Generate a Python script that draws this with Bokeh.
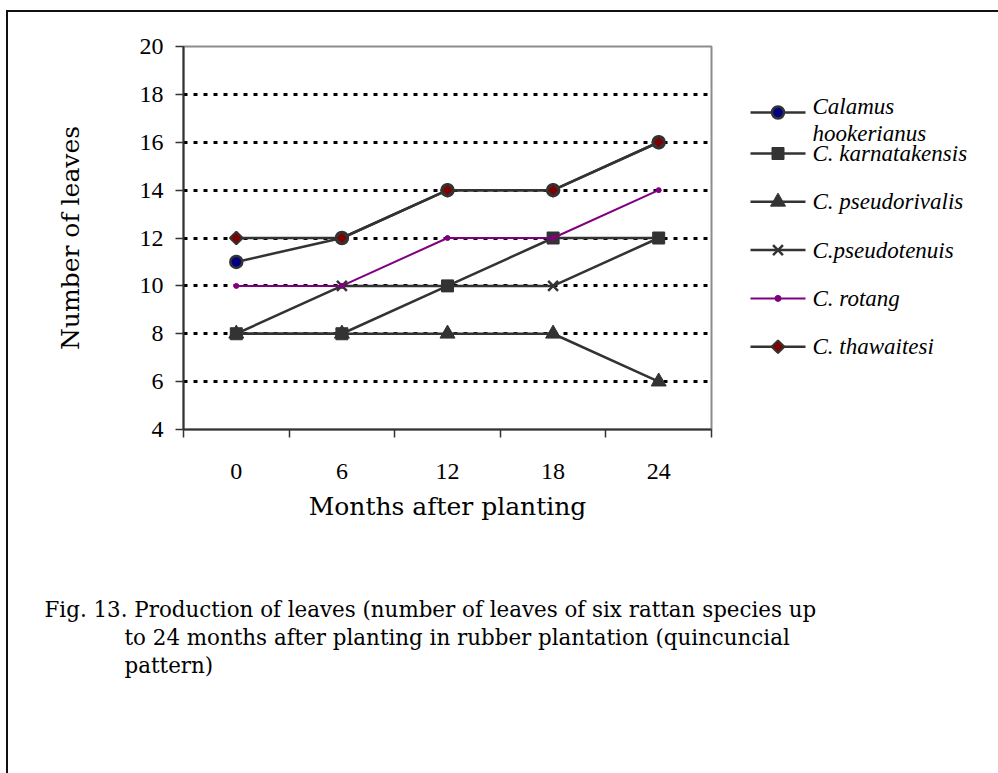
import numpy as np
from bokeh.plotting import figure
from bokeh.layouts import column, row
from bokeh.models import FixedTicker, Range1d
from bokeh.core.properties import value
from bokeh.embed import file_html
from bokeh.resources import INLINE

# ---- data ----
months = [0, 6, 12, 18, 24]
month_bounds = [-3, 3, 9, 15, 21, 27]
y_ticks = [4, 6, 8, 10, 12, 14, 16, 18, 20]
grid_ticks = [6, 8, 10, 12, 14, 16, 18]

hookerianus = [11, 12, 14, 14, 16]
karnatakensis = [8, 8, 10, 12, 12]
pseudorivalis = [8, 8, 8, 8, 6]
pseudotenuis = [8, 10, 10, 10, 12]
rotang = [10, 10, 12, 12, 14]
thawaitesi = [12, 12, 14, 14, 16]

legend_labels = ["Calamus", "C. karnatakensis", "C. pseudorivalis",
                 "C.pseudotenuis", "C. rotang", "C. thawaitesi"]
legend_label_second_line = "hookerianus"

caption_lines = [
    "Fig. 13. Production of leaves (number of leaves of six rattan species up",
    "to 24 months after planting in rubber plantation (quincuncial",
    "pattern)",
]

x_title = "Months after planting"
y_title = "Number of leaves"

# ---- page geometry (pixels) ----
W, H = 998, 773
TOP_H = 540            # height of chart row
CHART_W = 713          # chart figure width (frame right edge at 711)
FRAME_TOP, FRAME_BOTTOM = 46, 429

tick_font = "Liberation Serif"
title_font = "DejaVu Serif"
dark = "#333333"

# ---- chart ----
p = figure(width=CHART_W, height=TOP_H, output_backend="svg", toolbar_location=None,
           x_range=(-3, 27), y_range=(4, 20),
           min_border_left=183, min_border_right=2,
           min_border_top=FRAME_TOP, min_border_bottom=TOP_H - FRAME_BOTTOM)
p.background_fill_color = "white"
p.border_fill_color = None
p.outline_line_color = "#8c8c8c"
p.outline_line_width = 2
p.styles = {
    "background": ("linear-gradient(#111, #111) 6px 10px / 2px 100% no-repeat, "
                   "linear-gradient(#111, #111) 6px 10px / 100% 2px no-repeat, white"),
}

p.xaxis.ticker = FixedTicker(ticks=months, minor_ticks=month_bounds)
p.xaxis.major_tick_out = 0
p.xaxis.major_tick_in = 0
p.xaxis.minor_tick_out = 8
p.xaxis.minor_tick_in = 0
p.xaxis.minor_tick_line_color = dark
p.xaxis.minor_tick_line_width = 1.5
p.xaxis.axis_line_color = dark
p.xaxis.axis_line_width = 2
p.xaxis.major_label_text_font = tick_font
p.xaxis.major_label_text_font_size = "24px"
p.xaxis.major_label_text_color = "black"
p.xaxis.major_label_standoff = 26
p.xaxis.axis_label = x_title
p.xaxis.axis_label_text_font = title_font
p.xaxis.axis_label_text_font_size = "25px"
p.xaxis.axis_label_text_font_style = "normal"
p.xaxis.axis_label_text_color = "black"
p.xaxis.axis_label_standoff = 10

p.yaxis.ticker = FixedTicker(ticks=y_ticks, minor_ticks=[])
p.yaxis.major_tick_out = 8
p.yaxis.major_tick_in = 0
p.yaxis.major_tick_line_color = dark
p.yaxis.major_tick_line_width = 1.5
p.yaxis.axis_line_color = dark
p.yaxis.axis_line_width = 2
p.yaxis.major_label_text_font = tick_font
p.yaxis.major_label_text_font_size = "24px"
p.yaxis.major_label_text_color = "black"
p.yaxis.major_label_standoff = 12
p.yaxis.axis_label = y_title
p.yaxis.axis_label_text_font = title_font
p.yaxis.axis_label_text_font_size = "25px"
p.yaxis.axis_label_text_font_style = "normal"
p.yaxis.axis_label_text_color = "black"
p.yaxis.axis_label_standoff = 52

p.xgrid.visible = False
p.ygrid.ticker = FixedTicker(ticks=grid_ticks)
p.ygrid.grid_line_color = "black"
p.ygrid.grid_line_width = 3
p.ygrid.grid_line_dash = "4 6"

series = [
    (hookerianus, dark, 2.5,
     dict(marker="circle", size=12, fill_color="#000080", line_color=dark, line_width=2.5)),
    (karnatakensis, dark, 2.5,
     dict(marker="square", size=12, fill_color=dark, line_color=dark, line_width=1)),
    (pseudorivalis, dark, 2.5,
     dict(marker="triangle", size=15, fill_color=dark, line_color=dark, line_width=1)),
    (pseudotenuis, dark, 2.5,
     dict(marker="x", size=14, line_color=dark, line_width=2.5)),
    (rotang, "#800080", 2,
     dict(marker="circle", size=5, fill_color="#800080", line_color="#800080", line_width=1)),
    (thawaitesi, dark, 2.5,
     dict(marker="square", size=9, angle=np.pi / 4, fill_color="#800000",
          line_color=dark, line_width=2)),
]

for vals, lc, lw, mk in series:
    p.line(months, vals, line_color=lc, line_width=lw)
    p.scatter(months, vals, **mk)

# ---- legend panel (its frame is aligned with the chart frame; units = page pixels) ----
leg = figure(width=W - CHART_W, height=TOP_H, output_backend="svg", toolbar_location=None,
             x_range=Range1d(CHART_W, W), y_range=Range1d(FRAME_BOTTOM, FRAME_TOP),
             x_axis_type=None, y_axis_type=None,
             min_border_left=0, min_border_right=0,
             min_border_top=FRAME_TOP, min_border_bottom=TOP_H - FRAME_BOTTOM)
leg.grid.visible = False
leg.outline_line_color = None
leg.background_fill_color = None
leg.border_fill_color = None
leg.styles = {
    "background": "linear-gradient(#111, #111) 0 10px / 100% 2px no-repeat, white",
}

row_pitch = 48.3
first_row_y = 112
second_row_y = 153
line_x0, line_x1, text_x = 750, 805, 812
marker_x = (line_x0 + line_x1) / 2

for i, (label, (vals, lc, lw, mk)) in enumerate(zip(legend_labels, series)):
    yy = first_row_y if i == 0 else second_row_y + (i - 1) * row_pitch
    leg.line([line_x0, line_x1], [yy, yy], line_color=lc, line_width=lw)
    leg_mk = dict(mk)
    if i == 4:
        leg_mk["size"] = 6
    leg.scatter([marker_x], [yy], **leg_mk)
    ty = yy - 6 if i == 0 else yy
    leg.text([text_x], [ty], text=[label], text_font=value(tick_font),
             text_font_style="italic", text_font_size="23px",
             text_baseline="middle", text_align="left", text_color="black")
leg.text([text_x], [first_row_y + 21], text=[legend_label_second_line],
         text_font=value(tick_font), text_font_style="italic", text_font_size="23px",
         text_baseline="middle", text_align="left", text_color="black")

# ---- caption panel ----
cap = figure(width=W, height=H - TOP_H, output_backend="svg", toolbar_location=None,
             x_range=Range1d(0, W), y_range=Range1d(H, TOP_H),
             x_axis_type=None, y_axis_type=None, min_border=0)
cap.grid.visible = False
cap.outline_line_color = None
cap.background_fill_color = None
cap.border_fill_color = None
cap.styles = {
    "background": "linear-gradient(#111, #111) 6px 0 / 2px 100% no-repeat, white",
}
cap.text([44, 124, 124], [609, 637, 665], text=caption_lines,
         text_font=value(title_font), text_font_size="21.4px",
         text_baseline="alphabetic", text_align="left", text_color="black")

layout = column(row(p, leg), cap)
open("out.html", "w").write(file_html(layout, INLINE))
